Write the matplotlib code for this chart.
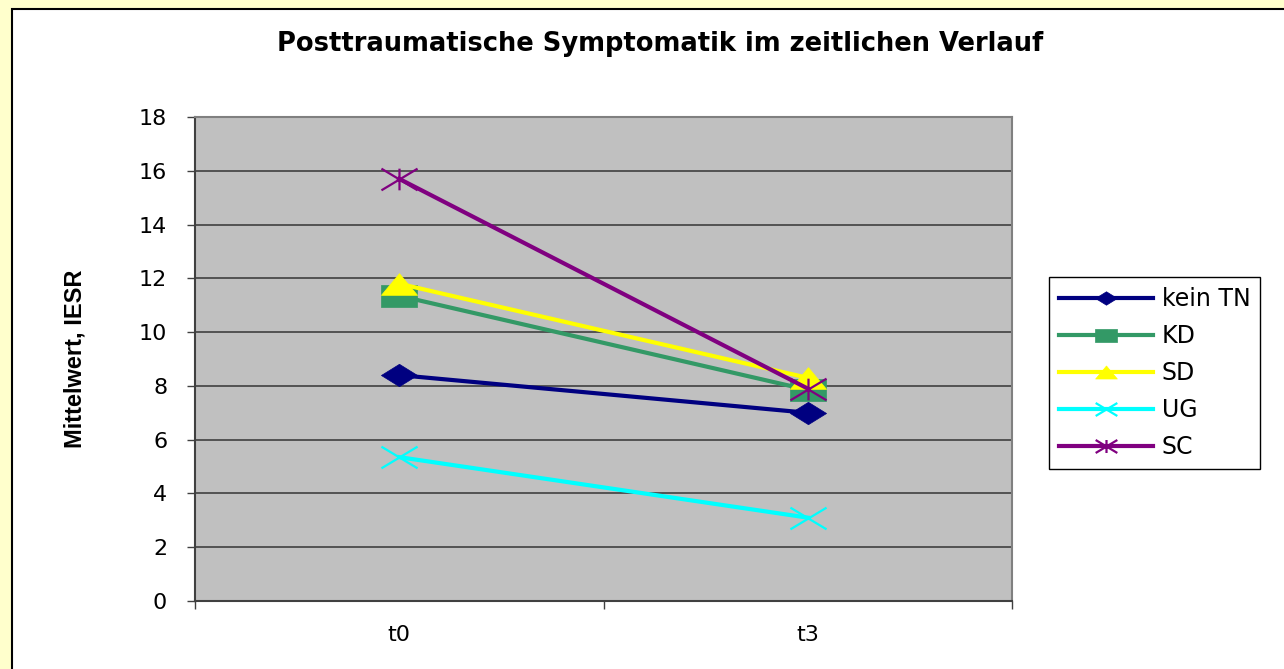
import matplotlib.pyplot as plt
from matplotlib.path import Path
from matplotlib.patches import Rectangle

# Daten
zeitpunkte = ['t0', 't3']
gruppen = ['kein TN', 'KD', 'SD', 'UG', 'SC']
werte_t0 = [8.4, 11.35, 11.8, 5.35, 15.7]
werte_t3 = [7.0, 7.85, 8.3, 3.1, 7.9]
farben = ['#000080', '#339966', '#FFFF00', '#00FFFF', '#800080']

# Excel-artige, breit gezogene Marker
M, L, C = Path.MOVETO, Path.LINETO, Path.CLOSEPOLY
raute = Path([(-1, 0), (0, 0.62), (1, 0), (0, -0.62), (-1, 0)], [M, L, L, L, C])
quadrat = Path([(-1, -0.6), (1, -0.6), (1, 0.6), (-1, 0.6), (-1, -0.6)], [M, L, L, L, C])
dreieck = Path([(-1, -0.6), (1, -0.6), (0, 0.6), (-1, -0.6)], [M, L, L, C])
kreuz = Path([(-1, -0.6), (1, 0.6), (-1, 0.6), (1, -0.6)], [M, L, M, L])
stern = Path([(-1, -0.6), (1, 0.6), (-1, 0.6), (1, -0.6), (0, -0.6), (0, 0.6)],
             [M, L, M, L, M, L])
marker = [raute, quadrat, dreieck, kreuz, stern]
gefuellt = [True, True, True, False, False]

plt.rcParams['font.family'] = ['DejaVu Sans']

fig = plt.figure(figsize=(12.84, 6.69), dpi=100)
fig.patch.set_facecolor('#FFFFCC')

# weisser Diagrammbereich mit schwarzem Rahmen
fig.patches.append(Rectangle((12 / 1284, -0.1), 1.2, 1.1 - 9 / 669,
                             transform=fig.transFigure, facecolor='white',
                             edgecolor='black', linewidth=1.5, zorder=-5))

ax = fig.add_axes([195 / 1284, 68 / 669, 817 / 1284, 484 / 669])
ax.set_facecolor('#C0C0C0')

x = list(range(len(zeitpunkte)))
for i, g in enumerate(gruppen):
    ax.plot(x, [werte_t0[i], werte_t3[i]], color=farben[i], linewidth=3,
            marker=marker[i], markersize=26,
            markerfacecolor=farben[i] if gefuellt[i] else 'none',
            markeredgecolor=farben[i], markeredgewidth=1.6 if not gefuellt[i] else 0.5,
            label=g, zorder=3 + i)

ax.set_xlim(-0.5, 1.5)
ax.set_ylim(0, 18)
ax.set_yticks(range(0, 19, 2))
ax.set_xticks([-0.5, 0.5, 1.5])
ax.set_xticklabels([])
ax.set_xticks(x, minor=True)
ax.set_xticklabels(zeitpunkte, minor=True, fontsize=16)
ax.tick_params(axis='x', which='minor', length=0, pad=17)
ax.tick_params(axis='x', which='major', length=6, color='#404040', width=1)
ax.tick_params(axis='y', length=6, color='#404040', width=1, labelsize=16, pad=14)

ax.grid(axis='y', color='#404040', linewidth=1.2, zorder=1)
ax.set_axisbelow(True)
for s in ['left', 'bottom']:
    ax.spines[s].set_color('#404040')
    ax.spines[s].set_linewidth(1.5)
for s in ['top', 'right']:
    ax.spines[s].set_color('#808080')
    ax.spines[s].set_linewidth(1.5)

ax.set_ylabel('Mittelwert, IESR', fontsize=17, fontweight='bold', labelpad=38,
              family='Liberation Sans')

fig.text(660 / 1284, 1 - 44 / 669, 'Posttraumatische Symptomatik im zeitlichen Verlauf',
         ha='center', va='center', fontsize=18.5, fontweight='bold')

leg = fig.legend(loc='upper left', bbox_to_anchor=(1049 / 1284, 1 - 277 / 669),
                 bbox_transform=fig.transFigure, borderaxespad=0, fontsize=17,
                 frameon=True, fancybox=False, edgecolor='black', framealpha=1,
                 handlelength=4.0, handletextpad=0.35, labelspacing=0.55,
                 borderpad=0.42, markerscale=0.6)
leg.get_frame().set_linewidth(1)

fig.savefig('out.png', dpi=100, facecolor=fig.get_facecolor())
